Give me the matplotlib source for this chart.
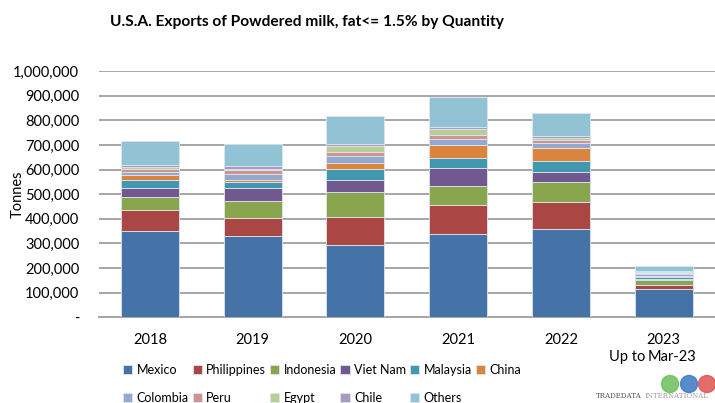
import numpy as np
import matplotlib
matplotlib.use('Agg')
import matplotlib.pyplot as plt
from matplotlib.patches import Ellipse
from matplotlib.ticker import FuncFormatter

plt.rcParams['font.family'] = ['Lato', 'DejaVu Sans']

years = ['2018', '2019', '2020', '2021', '2022', '2023']
countries = ['Mexico', 'Philippines', 'Indonesia', 'Viet Nam', 'Malaysia', 'China',
             'Colombia', 'Peru', 'Egypt', 'Chile', 'Others']

# tonnes per destination
mexico      = [349000, 332000, 292000, 339000, 359000, 113000]
philippines = [86000, 71000, 115000, 115000, 110000, 18000]
indonesia   = [55000, 68000, 100000, 81000, 79000, 19000]
viet_nam    = [35000, 54000, 52000, 71000, 40000, 5000]
malaysia    = [33000, 25000, 42000, 39000, 46000, 7000]
china       = [20000, 8000, 26000, 53000, 54000, 7000]
colombia    = [14000, 24000, 30000, 26000, 19000, 7000]
peru        = [10000, 16000, 14000, 15000, 14000, 5000]
egypt       = [7000, 6000, 23000, 24000, 9000, 3000]
chile       = [8000, 12000, 11000, 11000, 6000, 2000]
others      = [99000, 89000, 114000, 119000, 95000, 23000]

series = [mexico, philippines, indonesia, viet_nam, malaysia, china,
          colombia, peru, egypt, chile, others]
colors = ['#4572A7', '#AA4643', '#89A54E', '#71588F', '#4198AF', '#DB843D',
          '#93A9CF', '#D19392', '#B9CD96', '#A99BBD', '#92C3D4']

W, H = 715, 403
fig = plt.figure(figsize=(W / 100, H / 100), dpi=100)
ax = fig.add_axes([0.138, 0.2127, 0.862, 0.611])

x = np.arange(len(years))
bottom = np.zeros(len(years))
handles = []
for name, vals, c in zip(countries, series, colors):
    b = ax.bar(x, vals, bottom=bottom, width=0.565, color=c, label=name,
               edgecolor='#dde6ef', linewidth=0.6, zorder=3)
    handles.append(b)
    bottom += np.array(vals)

ax.set_xlim(-0.5, len(years) - 0.5)
ax.set_ylim(0, 1000000)
ax.set_yticks(np.arange(0, 1000001, 100000))
ax.yaxis.set_major_formatter(FuncFormatter(lambda v, p: '-' if v == 0 else f'{int(v):,}'))
ax.set_xticks(x)
ax.set_xticklabels(years)
ax.tick_params(axis='both', length=0, labelsize=10.5, colors='#000000')
ax.tick_params(axis='y', pad=14)
ax.tick_params(axis='x', pad=11)
ax.grid(axis='y', color='#a6a6a6', linewidth=1.4, zorder=0)
for s in ['left', 'right', 'top']:
    ax.spines[s].set_visible(False)
ax.spines['bottom'].set_color('#a6a6a6')
ax.spines['bottom'].set_linewidth(1.4)
ax.set_ylabel('Tonnes', fontsize=10.5)
ax.yaxis.set_label_coords(-0.12, 0.5)

fig.text(0.154, 0.946, 'U.S.A. Exports of Powdered milk, fat<= 1.5% by Quantity',
         fontsize=11.2, fontweight='bold', va='center', ha='left')

# legend in row order (matplotlib fills columns first)
order = [0, 6, 1, 7, 2, 8, 3, 9, 4, 10, 5]
fig.legend([handles[i] for i in order], [countries[i] for i in order],
           loc='upper left', bbox_to_anchor=(0.172, 0.097), ncol=6, frameon=False,
           fontsize=9, handlelength=0.75, handleheight=0.75, handletextpad=0.35,
           columnspacing=0.3, labelspacing=1.25, borderpad=0, borderaxespad=0)

fig.text(0.852, 0.114, 'Up to', fontsize=10.5, va='center')
fig.text(0.906, 0.114, 'Mar-23', fontsize=10.5, va='center')

# TradeData International logo
r = 8.5
for cx, col in [(670, '#6cbf5c'), (689, '#3a78c2'), (707, '#de5550')]:
    fig.add_artist(Ellipse((cx / W, 1 - 384 / H), 2 * r / W, 2 * r / H,
                           transform=fig.transFigure, color=col, alpha=0.85))
fig.text(596 / W, 1 - 396 / H, 'TRADEDATA', fontsize=5.15, color='#555555', va='center',
         family='DejaVu Serif')
fig.text(645 / W, 1 - 396 / H, 'INTERNATIONAL', fontsize=5.15, color='#a0a0a0', va='center',
         family='DejaVu Serif')

fig.savefig('out.png', dpi=100)
